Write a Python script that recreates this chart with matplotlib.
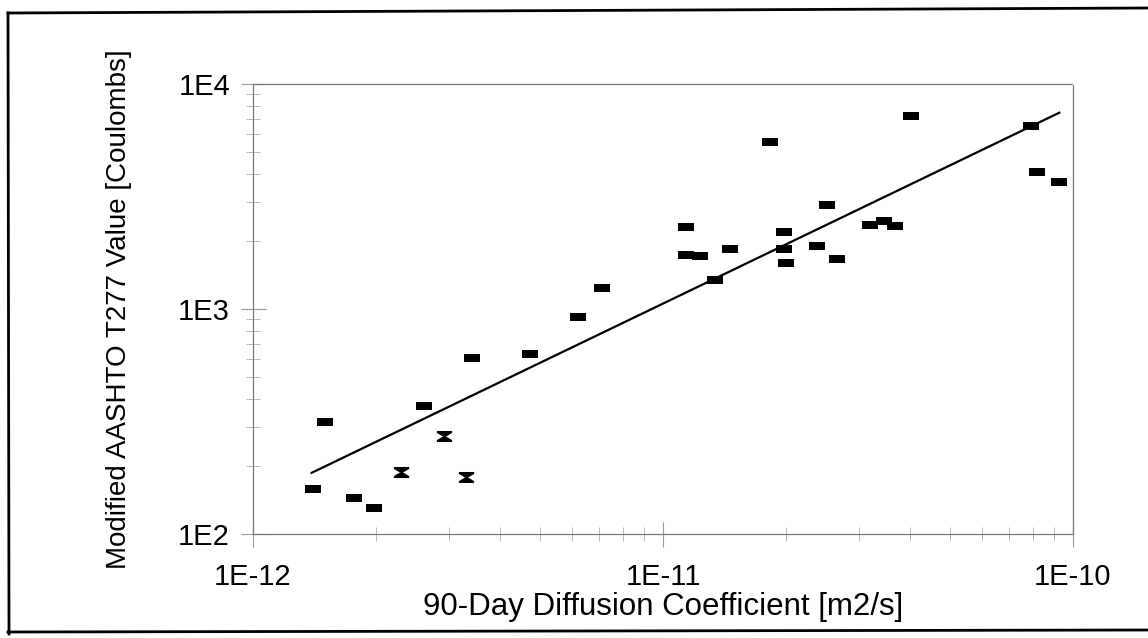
import numpy as np
import matplotlib
matplotlib.use("Agg")
import matplotlib.pyplot as plt
from matplotlib.path import Path
from matplotlib.lines import Line2D
from matplotlib.ticker import LogLocator, FixedLocator, FixedFormatter, NullFormatter

plt.rcParams["font.family"] = ["Liberation Sans", "DejaVu Sans"]

# 90-day diffusion coefficient [m2/s] vs modified AASHTO T277 charge [C]
diff_rect = [1.82e-11, 1.14e-11, 1.14e-11, 1.23e-11, 1.46e-11, 1.34e-11, 7.09e-12,
             1.97e-11, 1.97e-11, 1.99e-11, 4.03e-11, 7.90e-11, 8.17e-11, 9.26e-11,
             2.51e-11, 2.37e-11, 2.65e-11, 3.20e-11, 3.46e-11, 3.69e-11, 3.42e-12,
             2.61e-12, 1.50e-12, 1.40e-12, 1.76e-12, 1.97e-12, 6.19e-12, 4.74e-12]
charge_rect = [5510, 2310, 1740, 1720, 1840, 1345, 1236,
               2206, 1842, 1606, 7230, 6510, 4076, 3680,
               2908, 1905, 1673, 2362, 2469, 2331, 608,
               372, 315, 158, 145, 131, 924, 631]

diff_hg = [2.93e-12, 2.30e-12, 3.30e-12]
charge_hg = [273, 188, 180]

# regression line end points
fit_x = [1.39e-12, 9.26e-11]
fit_y = [187, 7455]

x_ticks = [1e-12, 1e-11, 1e-10]
x_ticklabels = ["1E-12", "1E-11", "1E-10"]
y_ticks = [1e2, 1e3, 1e4]
y_ticklabels = ["1E2", "1E3", "1E4"]

rect_marker = Path([(-1, -0.55), (1, -0.55), (1, 0.55), (-1, 0.55), (-1, -0.55)],
                   [Path.MOVETO, Path.LINETO, Path.LINETO, Path.LINETO, Path.CLOSEPOLY])
hg_verts = [(-0.9, 0.65), (0.9, 0.65), (0.9, 0.42), (0.18, 0), (0.9, -0.42),
            (0.9, -0.65), (-0.9, -0.65), (-0.9, -0.42), (-0.18, 0), (-0.9, 0.42),
            (-0.9, 0.65)]
hg_marker = Path(hg_verts, [Path.MOVETO] + [Path.LINETO] * 9 + [Path.CLOSEPOLY])

fig = plt.figure(figsize=(11.48, 6.38), dpi=100)
ax = fig.add_axes([253 / 1148, 1 - 534 / 638, 820 / 1148, 450 / 638])

ax.plot(fit_x, fit_y, color="black", linewidth=1.6, zorder=2)
ax.plot(diff_rect, charge_rect, linestyle="none", marker=rect_marker,
        markersize=11.5, color="black", markeredgewidth=0, zorder=3)
ax.plot(diff_hg, charge_hg, linestyle="none", marker=hg_marker,
        markersize=11, color="black", markeredgewidth=0, zorder=3)

ax.set_xscale("log")
ax.set_yscale("log")
ax.set_xlim(1e-12, 1e-10)
ax.set_ylim(1e2, 1e4)

ax.xaxis.set_major_locator(FixedLocator(x_ticks))
ax.xaxis.set_major_formatter(FixedFormatter(x_ticklabels))
ax.yaxis.set_major_locator(FixedLocator(y_ticks))
ax.yaxis.set_major_formatter(FixedFormatter(y_ticklabels))
ax.xaxis.set_minor_locator(LogLocator(base=10, subs=np.arange(2, 10)))
ax.yaxis.set_minor_locator(LogLocator(base=10, subs=np.arange(2, 10)))
ax.xaxis.set_minor_formatter(NullFormatter())
ax.yaxis.set_minor_formatter(NullFormatter())

ax.tick_params(which="major", direction="inout", length=18, width=0.8,
               color="#999999", labelsize=21, labelcolor="black")
ax.tick_params(which="minor", direction="inout", length=10, width=0.6, color="#aaaaaa")
ax.tick_params(axis="x", which="major", pad=12)
ax.tick_params(axis="y", which="major", pad=7.5)
ax.tick_params(top=False, right=False, which="both")

for s in ax.spines.values():
    s.set_color("#777777")
    s.set_linestyle((0, (1, 1)))
    s.set_linewidth(0.9)

ax.set_xlabel("90-Day Diffusion Coefficient [m2/s]", fontsize=22.5)
ax.xaxis.set_label_coords(0.5, -0.128)
ax.set_ylabel("Modified AASHTO T277 Value [Coulombs]", fontsize=20)
ax.yaxis.set_label_coords(-0.148, 0.5)

# outer frame of the scanned figure
fig.add_artist(Line2D([8 / 1148, 1], [1 - 13 / 638, 1 - 8 / 638], transform=fig.transFigure,
                      color="black", linewidth=2))
fig.add_artist(Line2D([8 / 1148, 9 / 1148], [1 - 13 / 638, 1 - 634 / 638],
                      transform=fig.transFigure, color="black", linewidth=2))
fig.add_artist(Line2D([8 / 1148, 1], [1 - 632 / 638, 1 - 630 / 638], transform=fig.transFigure,
                      color="black", linewidth=2))

fig.savefig("out.png", dpi=100, facecolor="white")
